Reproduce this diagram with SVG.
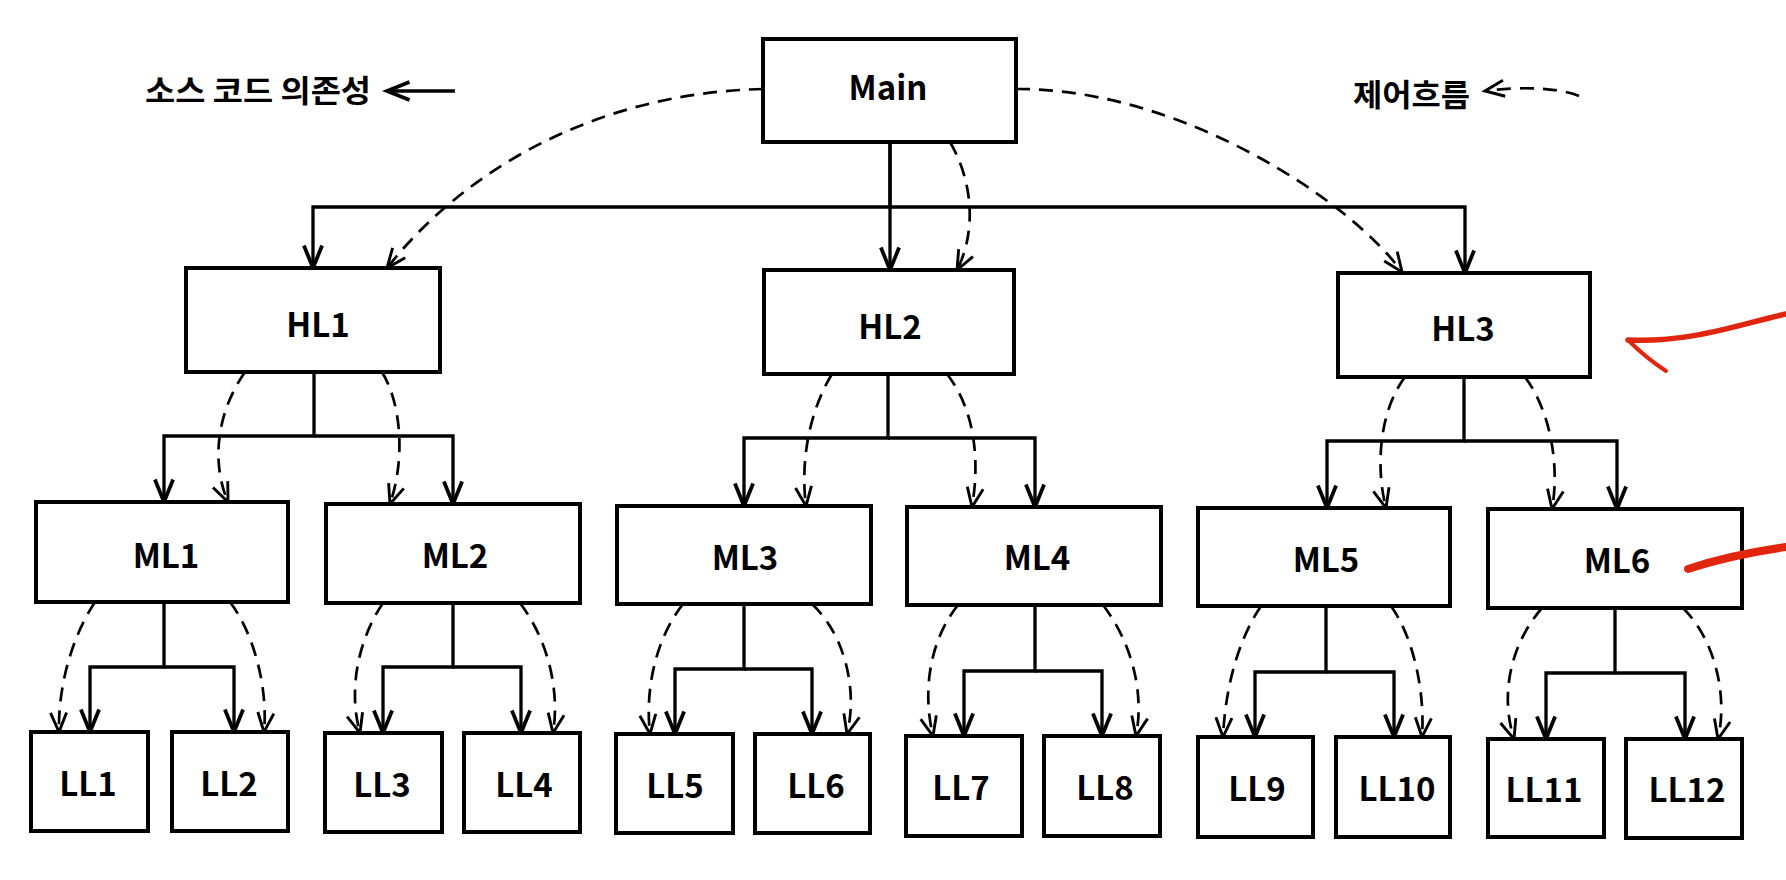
<svg xmlns="http://www.w3.org/2000/svg" width="1786" height="880" viewBox="0 0 1786 880">
  <style>
    .box { fill: #fff; stroke: #000; stroke-width: 4; }
    .lbl { font-family: "Noto Sans CJK KR", "Noto Sans", sans-serif; font-weight: 700; font-size: 33px; fill: #000; text-anchor: middle; }
    .legend { font-family: "Noto Sans CJK KR", sans-serif; font-weight: 700; font-size: 31px; fill: #000; }
    .dep { fill: none; stroke: #000; stroke-width: 3.3; stroke-linejoin: miter; marker-end: url(#solidHead); }
    .flow { fill: none; stroke: #000; stroke-width: 2.7; stroke-dasharray: 14 9; marker-end: url(#dashHead); }
    .mark { fill: none; stroke: #e0260f; stroke-linecap: round; stroke-linejoin: round; }
  </style>
  <defs>
    <marker id="solidHead" markerUnits="userSpaceOnUse" orient="auto" markerWidth="30" markerHeight="30" refX="0" refY="0" viewBox="-24 -12 28 24" overflow="visible">
      <path d="M-21,-8.5 L0,0 L-21,8.5" fill="none" stroke="#000" stroke-width="3.5" stroke-dasharray="none"/>
    </marker>
    <marker id="dashHead" markerUnits="userSpaceOnUse" orient="auto" markerWidth="30" markerHeight="30" refX="0" refY="0" viewBox="-24 -12 28 24" overflow="visible">
      <path d="M-18,-7.5 L0,0 L-18,7.5" fill="none" stroke="#000" stroke-width="2.7" stroke-dasharray="none"/>
    </marker>
  </defs>

  <rect width="1786" height="880" fill="#fff"/>

  <!-- legends -->
  <g id="legend-dependency">
    <text class="legend" x="145" y="102" textLength="226" lengthAdjust="spacingAndGlyphs">소스 코드 의존성</text>
    <path class="dep" d="M455,91 H387"/>
  </g>
  <g id="legend-flow">
    <text class="legend" x="1353" y="106" textLength="117" lengthAdjust="spacingAndGlyphs">제어흐름</text>
    <path class="flow" d="M1579,96 C1560,88 1520,86 1485,91"/>
  </g>

  <!-- connectors -->
  <g id="connectors">
    <!-- source code dependencies (solid) -->
    <path class="dep" d="M890,142 V207 H313 V268"/>
    <path class="dep" d="M890,142 V270"/>
    <path class="dep" d="M890,207 H1465 V273"/>

    <path class="dep" d="M314,372 V436 H164 V502"/>
    <path class="dep" d="M314,436 H453 V504"/>
    <path class="dep" d="M888,374 V438 H744 V506"/>
    <path class="dep" d="M888,438 H1035 V507"/>
    <path class="dep" d="M1464,377 V441 H1327 V508"/>
    <path class="dep" d="M1464,441 H1617 V509"/>

    <path class="dep" d="M164,602 V667 H90 V732"/>
    <path class="dep" d="M164,667 H234 V732"/>
    <path class="dep" d="M453,603 V667 H383 V733"/>
    <path class="dep" d="M453,667 H521 V733"/>
    <path class="dep" d="M744,604 V669 H675 V734"/>
    <path class="dep" d="M744,669 H812 V734"/>
    <path class="dep" d="M1035,605 V671 H964 V736"/>
    <path class="dep" d="M1035,671 H1102 V736"/>
    <path class="dep" d="M1326,606 V672 H1255 V737"/>
    <path class="dep" d="M1326,672 H1394 V737"/>
    <path class="dep" d="M1615,608 V673 H1546 V739"/>
    <path class="dep" d="M1615,673 H1685 V739"/>

    <!-- flow of control (dashed) -->
    <path class="flow" d="M763,89 C590,93 460,175 387,268"/>
    <path class="flow" d="M950,142 C975,185 975,235 957,270"/>
    <path class="flow" d="M1016,89 C1180,88 1350,200 1402,272"/>

    <path class="flow" d="M245,372 C215,415 212,465 228,502"/>
    <path class="flow" d="M382,372 C402,405 405,460 390,504"/>
    <path class="flow" d="M832,374 C810,410 800,460 806,506"/>
    <path class="flow" d="M947,374 C975,410 980,460 972,507"/>
    <path class="flow" d="M1405,377 C1380,410 1375,465 1386,508"/>
    <path class="flow" d="M1525,377 C1550,410 1560,465 1552,509"/>

    <path class="flow" d="M95,602 C70,640 58,690 59,732"/>
    <path class="flow" d="M230,602 C255,635 268,690 264,732"/>
    <path class="flow" d="M383,603 C358,640 348,690 360,733"/>
    <path class="flow" d="M520,603 C548,640 560,690 553,733"/>
    <path class="flow" d="M683,604 C655,640 645,690 650,734"/>
    <path class="flow" d="M812,604 C845,635 858,690 847,734"/>
    <path class="flow" d="M958,605 C930,640 922,690 933,736"/>
    <path class="flow" d="M1103,605 C1130,640 1145,690 1136,736"/>
    <path class="flow" d="M1261,606 C1235,645 1225,695 1223,737"/>
    <path class="flow" d="M1391,606 C1415,640 1425,695 1422,737"/>
    <path class="flow" d="M1542,608 C1510,645 1500,695 1514,739"/>
    <path class="flow" d="M1683,608 C1715,640 1728,695 1718,739"/>
  </g>

  <!-- top level -->
  <g id="main"><rect class="box" x="763" y="39" width="253" height="103"/><text class="lbl" x="888" y="100">Main</text></g>

  <!-- high level -->
  <g id="hl1"><rect class="box" x="186" y="268" width="254" height="104"/><text class="lbl" x="318" y="337">HL1</text></g>
  <g id="hl2"><rect class="box" x="764" y="270" width="250" height="104"/><text class="lbl" x="890" y="339">HL2</text></g>
  <g id="hl3"><rect class="box" x="1338" y="273" width="252" height="104"/><text class="lbl" x="1463" y="341">HL3</text></g>

  <!-- mid level -->
  <g id="ml1"><rect class="box" x="36" y="502" width="252" height="100"/><text class="lbl" x="166" y="568">ML1</text></g>
  <g id="ml2"><rect class="box" x="326" y="504" width="254" height="99"/><text class="lbl" x="455" y="568">ML2</text></g>
  <g id="ml3"><rect class="box" x="617" y="506" width="254" height="98"/><text class="lbl" x="745" y="570">ML3</text></g>
  <g id="ml4"><rect class="box" x="907" y="507" width="254" height="98"/><text class="lbl" x="1037" y="570">ML4</text></g>
  <g id="ml5"><rect class="box" x="1198" y="508" width="252" height="98"/><text class="lbl" x="1326" y="572">ML5</text></g>
  <g id="ml6"><rect class="box" x="1488" y="509" width="254" height="99"/><text class="lbl" x="1617" y="573">ML6</text></g>

  <!-- low level -->
  <g id="ll1"><rect class="box" x="31" y="732" width="117" height="99"/><text class="lbl" x="88" y="796">LL1</text></g>
  <g id="ll2"><rect class="box" x="172" y="732" width="116" height="99"/><text class="lbl" x="229" y="796">LL2</text></g>
  <g id="ll3"><rect class="box" x="325" y="733" width="117" height="99"/><text class="lbl" x="382" y="797">LL3</text></g>
  <g id="ll4"><rect class="box" x="464" y="733" width="116" height="99"/><text class="lbl" x="524" y="797">LL4</text></g>
  <g id="ll5"><rect class="box" x="616" y="734" width="117" height="99"/><text class="lbl" x="675" y="798">LL5</text></g>
  <g id="ll6"><rect class="box" x="755" y="734" width="115" height="99"/><text class="lbl" x="816" y="798">LL6</text></g>
  <g id="ll7"><rect class="box" x="906" y="736" width="116" height="100"/><text class="lbl" x="961" y="800">LL7</text></g>
  <g id="ll8"><rect class="box" x="1044" y="736" width="116" height="100"/><text class="lbl" x="1105" y="800">LL8</text></g>
  <g id="ll9"><rect class="box" x="1198" y="737" width="115" height="100"/><text class="lbl" x="1257" y="801">LL9</text></g>
  <g id="ll10"><rect class="box" x="1336" y="737" width="114" height="100"/><text class="lbl" x="1397" y="801">LL10</text></g>
  <g id="ll11"><rect class="box" x="1488" y="739" width="116" height="98"/><text class="lbl" x="1544" y="802">LL11</text></g>
  <g id="ll12"><rect class="box" x="1626" y="739" width="116" height="99"/><text class="lbl" x="1687" y="802">LL12</text></g>

  <!-- red pen marks -->
  <g id="pen-marks">
    <path class="mark" stroke-width="5.5" d="M1786,314 C1740,324 1690,343 1628,340"/>
    <path class="mark" stroke-width="4" d="M1628,340 Q1646,358 1666,371"/>
    <path class="mark" stroke-width="8" d="M1688,569 Q1730,555 1786,547"/>
  </g>
</svg>
